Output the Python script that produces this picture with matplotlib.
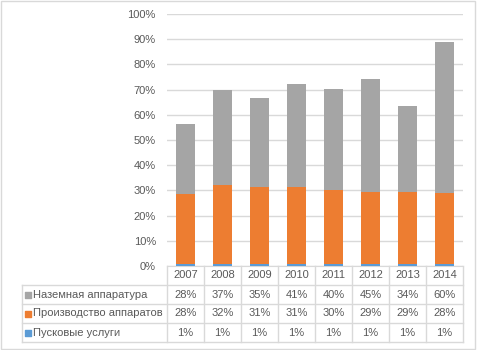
import numpy as np
import matplotlib.pyplot as plt
from matplotlib.patches import Rectangle

years = ['2007', '2008', '2009', '2010', '2011', '2012', '2013', '2014']
launch = [0.6, 0.6, 0.6, 0.6, 0.6, 0.6, 0.6, 0.6]            # Пусковые услуги
production = [28.1, 31.7, 30.7, 30.6, 29.7, 28.9, 28.9, 28.2]  # Производство аппаратов
ground = [27.6, 37.4, 35.4, 41.2, 40.1, 44.6, 34.1, 60.2]      # Наземная аппаратура

names = ['Наземная аппаратура', 'Производство аппаратов', 'Пусковые услуги']
colors = ['#A5A5A5', '#ED7D31', '#5B9BD5']
text_col = '#595959'
line_col = '#D9D9D9'

plt.rcParams['font.family'] = ['Liberation Sans', 'DejaVu Sans']
plt.rcParams['font.size'] = 8

W, H = 480, 350
fig = plt.figure(figsize=(W / 100, H / 100), dpi=100)

def px_axes(x0, y0, x1, y1):
    # pixel box (top-left origin) -> axes
    return fig.add_axes([x0 / W, 1 - y1 / H, (x1 - x0) / W, (y1 - y0) / H])

# chart border
fig.patches.append(Rectangle((0.5 / W, 1 - 348.5 / H), 474.5 / W, 347.5 / H,
                             transform=fig.transFigure, fill=False,
                             edgecolor=line_col, linewidth=1))

left, right, top, base = 167, 463, 14, 266
ax = px_axes(left, top, right, base)
x = np.arange(len(years))
l = np.array(launch)
p = np.array(production)
g = np.array(ground)
ax.bar(x, l, width=0.52, color=colors[2], zorder=3)
ax.bar(x, p, width=0.52, bottom=l, color=colors[1], zorder=3)
ax.bar(x, g, width=0.52, bottom=l + p, color=colors[0], zorder=3)
ax.set_xlim(-0.5, len(years) - 0.5)
ax.set_ylim(0, 100)
ax.set_yticks(np.arange(0, 101, 10))
ax.set_yticklabels([f'{v}%' for v in range(0, 101, 10)], color=text_col)
ax.yaxis.grid(True, color=line_col, linewidth=1, zorder=0)
ax.tick_params(axis='y', length=0, pad=8)
ax.set_xticks([])
for s in ['left', 'right', 'top']:
    ax.spines[s].set_visible(False)
ax.spines['bottom'].set_color(line_col)
ax.set_facecolor('none')

# data table
label_w = (left - 22) / ((right - left) / len(years))
tab = px_axes(22, base, right, 342)
tab.set_xlim(-0.5 - label_w, len(years) - 0.5)
tab.set_ylim(4, 0)
tab.axis('off')
lw = 1
# horizontal lines
for r in range(1, 5):
    tab.plot([-0.5 - label_w, len(years) - 0.5], [r, r], color=line_col, lw=lw, clip_on=False)
# vertical lines
for c in range(len(years) + 1):
    tab.plot([c - 0.5, c - 0.5], [0, 4], color=line_col, lw=lw, clip_on=False)
tab.plot([-0.5 - label_w] * 2, [1, 4], color=line_col, lw=lw, clip_on=False)

for i, yr in enumerate(years):
    tab.text(i, 0.5, yr, ha='center', va='center', color=text_col)
for r, (name, vals, col) in enumerate(zip(names, [ground, production, launch], colors)):
    yy = r + 1.5
    tab.scatter([-0.5 - label_w + 0.15], [yy], marker='s', s=14, color=col, clip_on=False)
    tab.text(-0.5 - label_w + 0.3, yy, name, ha='left', va='center', color=text_col)
    for i, v in enumerate(vals):
        tab.text(i, yy, f'{v:.0f}%', ha='center', va='center', color=text_col)

fig.savefig('out.png', dpi=100)
